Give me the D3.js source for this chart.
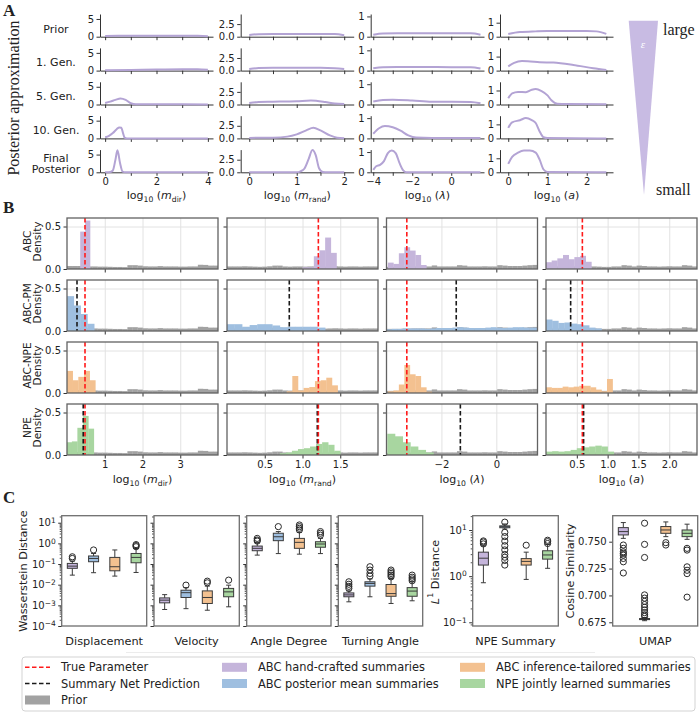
<!DOCTYPE html>
<html>
<head>
<meta charset="utf-8">
<script src="https://cdn.jsdelivr.net/npm/d3@7"></script>
<style>
  body { margin: 0; background: #fff; }
  svg text { font-family: 'DejaVu Sans', sans-serif; fill: #222; }
</style>
</head>
<body>
<div id="chart"></div>
<script>
// ---------------- data ----------------

// panel A: posterior approximations per generation, [x, density]
const genLabels = [['Prior'], ['1. Gen.'], ['5. Gen.'], ['10. Gen.'], ['Final', 'Posterior']];

const kdeMdir = [
  [[0,0.22],[0.5,0.25],[1,0.25],[2,0.25],[3,0.25],[3.6,0.24],[4,0.15]],
  [[0,0.12],[1,0.2],[2,0.3],[3,0.4],[3.6,0.38],[4,0.22]],
  [[0,0.4],[0.2,0.8],[0.4,1.3],[0.6,1.7],[0.8,1.3],[1.0,0.35],[1.2,0.06],[2,0.04],[3,0.04],[4,0.03]],
  [[0,0.3],[0.15,0.7],[0.3,1.5],[0.45,2.6],[0.55,3.1],[0.63,3.0],[0.7,1.4],[0.76,0.2],[0.85,0],[4,0]],
  [[0,0],[0.2,0.1],[0.3,0.5],[0.4,3.5],[0.48,6.2],[0.58,2.6],[0.68,0.2],[0.8,0],[4,0]]
];
const kdeMrand = [
  [[0,0.35],[0.2,0.5],[0.5,0.52],[1,0.52],[1.5,0.55],[1.8,0.52],[2,0.3]],
  [[0,0.3],[0.2,0.5],[0.5,0.55],[1,0.55],[1.5,0.55],[1.8,0.48],[2,0.3]],
  [[0,0.3],[0.2,0.5],[0.5,0.55],[1,0.65],[1.3,0.78],[1.6,0.5],[1.8,0.2],[2,0.1]],
  [[0,0.1],[0.5,0.15],[0.8,0.35],[1.0,0.8],[1.2,1.6],[1.35,2.1],[1.5,1.6],[1.7,0.6],[1.85,0.15],[2,0.05]],
  [[0,0],[1.0,0],[1.08,0.2],[1.16,0.7],[1.25,2.6],[1.33,4.4],[1.4,3.4],[1.47,0.8],[1.55,0.05],[1.65,0],[2,0]]
];
const kdeLambda = [
  [[-4,0.1],[-3.5,0.16],[-2,0.17],[0,0.17],[1,0.17],[1.5,0.1]],
  [[-4,0.12],[-3.5,0.17],[-2,0.18],[0,0.17],[1,0.17],[1.5,0.1]],
  [[-4,0.15],[-3.5,0.22],[-3,0.24],[-2,0.2],[-1,0.14],[0,0.14],[1,0.12],[1.5,0.06]],
  [[-4,0.23],[-3.7,0.5],[-3.4,0.61],[-3,0.55],[-2.6,0.38],[-2.2,0.15],[-1.8,0.04],[-1,0.02],[0,0.02],[1.5,0.02]],
  [[-4,0.12],[-3.85,0.3],[-3.65,0.37],[-3.45,0.55],[-3.25,0.95],[-3.05,1.08],[-2.85,0.95],[-2.65,0.45],[-2.45,0.08],[-2.3,0],[1.5,0]]
];
const kdeA = [
  [[0,0.2],[0.3,0.33],[0.7,0.38],[1,0.4],[1.5,0.4],[2,0.4],[2.25,0.38],[2.5,0.2]],
  [[0,0.3],[0.15,0.55],[0.35,0.68],[0.5,0.67],[0.8,0.6],[1.15,0.57],[1.66,0.4],[2.17,0.17],[2.5,0.05]],
  [[0,0.45],[0.1,0.8],[0.25,0.9],[0.45,0.88],[0.6,1.05],[0.7,1.1],[0.85,0.95],[1.0,0.65],[1.1,0.3],[1.25,0.05],[1.5,0.03],[2.5,0.02]],
  [[0,0.75],[0.1,1.15],[0.3,1.3],[0.45,1.45],[0.6,1.3],[0.7,1.1],[0.8,0.5],[0.9,0.08],[1.0,0.02],[2.5,0]],
  [[0,0.6],[0.1,1.1],[0.25,1.4],[0.4,1.55],[0.55,1.55],[0.7,1.4],[0.8,0.9],[0.9,0.2],[1.0,0.02],[2.5,0]]
];

// panel B: prior histograms (30 bins over the axis range)
const priorMdir = [0.035,0.035,0.035,0.035,0.03,0.03,0.028,0.028,0.026,0.024,0.024,0.022,0.045,0.045,0.04,0.032,0.03,0.03,0.034,0.03,0.03,0.03,0.028,0.028,0.03,0.03,0.05,0.048,0.04,0.04];
const priorMrand = [0.03,0.03,0.03,0.032,0.03,0.028,0.026,0.028,0.032,0.04,0.04,0.03,0.028,0.03,0.03,0.028,0.03,0.03,0.026,0.028,0.03,0.032,0.03,0.028,0.03,0.03,0.028,0.03,0.03,0.03];
const priorLambda = [0.025,0.025,0.025,0.028,0.028,0.03,0.03,0.03,0.03,0.042,0.03,0.03,0.03,0.03,0.045,0.04,0.03,0.03,0.03,0.032,0.03,0.03,0.045,0.04,0.035,0.035,0.035,0.04,0.045,0.048];
const priorA = [0.03,0.03,0.03,0.03,0.03,0.03,0.03,0.03,0.03,0.03,0.028,0.025,0.025,0.03,0.03,0.045,0.04,0.03,0.04,0.035,0.03,0.03,0.028,0.03,0.032,0.03,0.03,0.045,0.04,0.03];

// posterior histograms per method, one per parameter: first bin edge, bin width, heights
const histABC = [
  {x0:0.35, w:0.13, h:[0.44,0.57]},
  {x0:1.0, w:0.075, h:[0.02,0.02,0.15,0.22,0.37,0.19]},
  {x0:-3.95, w:0.2, h:[0.075,0.06,0.185,0.256,0.217,0.165,0.047]},
  {x0:0, w:0.092, h:[0.08,0.1,0.125,0.165,0.115,0.14,0.155,0.085]}
];
const histPM = [
  {x0:0, w:0.18, h:[0.41,0.30,0.20,0.085]},
  {x0:0, w:0.1, h:[0.08,0.08,0.05,0.07,0.08,0.08,0.065,0.045,0.05,0.05,0.05,0.05,0.04]},
  {x0:-4, w:0.2, h:[0.02,0.025,0.025,0.03,0.03,0.03,0.03,0.025,0.03,0.035,0.035,0.035,0.04,0.045,0.04,0.035,0.035,0.035,0.04,0.045,0.04,0.035,0.04,0.045,0.045,0.04,0.04,0.04]},
  {x0:0, w:0.1, h:[0.135,0.12,0.095,0.1,0.087,0.08,0.067,0.04,0.03]}
];
const histABCNPE = [
  {x0:0, w:0.15, h:[0.26,0.15,0.19,0.26,0.15]},
  {x0:0.79, w:0.075, h:[0.02,0.2,0.03,0.06,0.07,0.14,0.15,0.18,0.09]},
  {x0:-3.95, w:0.2, h:[0.02,0.03,0.1,0.33,0.22,0.2,0.067,0.015]},
  {x0:0, w:0.09, h:[0.067,0.06,0.06,0.075,0.067,0.075,0.085,0.085,0.067,0.04,0.02,0.165]}
];
const histNPE = [
  {x0:-0.015, w:0.145, h:[0.15,0.16,0.32,0.46,0.31]},
  {x0:0.7, w:0.08, h:[0.02,0.03,0.05,0.07,0.08,0.1,0.13,0.15,0.12,0.05]},
  {x0:-3.97, w:0.28, h:[0.25,0.22,0.15,0.1,0.06,0.03]},
  {x0:0, w:0.1, h:[0.04,0.045,0.04,0.045,0.06,0.08,0.09,0.1,0.11,0.1,0.04]}
];

const trueParam = [0.477, 1.21, -3.26, 0.59];
const netPredPM = [0.265, 0.825, -1.46, 0.40];
const netPredNPE = [0.43, 1.196, -1.31, 0.61];

const methodNames = ['ABC hand-crafted summaries', 'ABC posterior mean summaries',
                     'ABC inference-tailored summaries', 'NPE jointly learned summaries'];
const methodRows = [['ABC', 'Density'], ['ABC-PM', 'Density'], ['ABC-NPE', 'Density'], ['NPE', 'Density']];

// panel C: box statistics [lo whisker, q1, median, q3, hi whisker] and outliers,
// order: hand-crafted, posterior mean, inference-tailored, NPE
const wassMetrics = ['Displacement', 'Velocity', 'Angle Degree', 'Turning Angle'];
const wassDisplacement = [
  {b:[0.029,0.062,0.079,0.107,0.138], out:[0.186,0.224]},
  {b:[0.038,0.129,0.186,0.245,0.324], out:[0.479]},
  {b:[0.026,0.047,0.074,0.209,0.479], out:[]},
  {b:[0.039,0.115,0.209,0.324,0.575], out:[0.69,0.78,0.87]}
];
const wassVelocity = [
  {b:[0.00063,0.00132,0.00178,0.00229,0.0033], out:[]},
  {b:[0.00069,0.0024,0.0041,0.0054,0.0072], out:[0.0095]},
  {b:[0.00058,0.00123,0.0024,0.005,0.0085], out:[0.0123,0.0148]},
  {b:[0.00085,0.0026,0.0045,0.0066,0.0095], out:[0.0166]}
];
const wassAngle = [
  {b:[0.27,0.44,0.575,0.74,1.07], out:[1.29,1.45,1.74]},
  {b:[0.32,1.35,2.09,3.09,3.72], out:[6.46]},
  {b:[0.30,0.575,1.12,1.74,3.39], out:[4.47,5.37,6.46,7.76]},
  {b:[0.32,0.65,0.93,1.2,1.74], out:[2.51,3.09,3.72]}
];
const wassTurning = [
  {b:[0.00148,0.0026,0.0032,0.004,0.005], out:[0.0066,0.0083,0.0105,0.0138]},
  {b:[0.0026,0.0085,0.0115,0.0138,0.019], out:[0.026,0.035,0.051,0.074]},
  {b:[0.00123,0.00275,0.0037,0.0102,0.02], out:[0.024,0.029,0.035,0.042,0.051]},
  {b:[0.00166,0.00275,0.0049,0.0072,0.0138], out:[0.0155,0.019,0.023,0.029]}
];
const npeL1 = [
  {b:[0.72,1.74,2.45,3.31,4.57], out:[5.0,5.5,5.8]},
  {b:[10.5,11.2,11.8,12.3,13.5], out:[14.8,8.9,7.2,5.75,4.57,3.7,2.95,2.57,2.19,1.74]},
  {b:[0.85,1.74,2.09,2.4,3.31], out:[4.68]},
  {b:[1.48,2.34,2.88,3.55,4.9], out:[5.1,5.6,6.0]}
];
const umapCos = [
  {b:[0.7531,0.7563,0.7594,0.7631,0.7678], out:[0.7469,0.7438,0.7406,0.7391,0.7375,0.7344,0.7313,0.7209]},
  {b:[0.6765,0.6775,0.678,0.6785,0.6795], out:[0.7672,0.7475,0.7353,0.7005,0.6975,0.6945,0.6915,0.689,0.6865,0.684,0.682,0.6805]},
  {b:[0.7547,0.7578,0.7609,0.7641,0.7684], out:[0.7491,0.7469]},
  {b:[0.7522,0.7547,0.7578,0.7609,0.7663], out:[0.7438,0.7422,0.7266,0.7234,0.7203,0.6984]}
];

// ---------------- setup ----------------
const SERIF = "'Liberation Serif', 'DejaVu Serif', serif";
const colors = ['#c5b5db', '#9fbfe0', '#f3c190', '#a8d6a0'];
const priorColor = '#a2a2a2';
const curveColor = '#b3a3d4';

const svg = d3.select('#chart').append('svg')
    .attr('width', 700)
    .attr('height', 718);

// math-ish labels built from tspans: [text, style]
function richText(sel, parts, size) {
    let shift = 0;
    parts.forEach(([t, style]) => {
        const target = style === 'sub' ? size * 0.28 : style === 'sup' ? -size * 0.42 : 0;
        const ts = sel.append('tspan').text(t).attr('dy', target - shift);
        shift = target;
        if (style === 'sub' || style === 'sup') ts.attr('font-size', size * 0.7);
        if (style === 'it') ts.attr('font-style', 'italic');
    });
}
const paramLabels = [
    [['log'],['10','sub'],[' ('],['m','it'],['dir','sub'],[')']],
    [['log'],['10','sub'],[' ('],['m','it'],['rand','sub'],[')']],
    [['log'],['10','sub'],[' ('],['λ','it'],[')']],
    [['log'],['10','sub'],[' ('],['a','it'],[')']]
];

function styleAxis(g, size, color) {
    g.attr('font-family', null).attr('font-size', null);
    g.selectAll('.domain').attr('stroke', color || '#333');
    g.selectAll('.tick line').attr('stroke', color || '#333');
    g.selectAll('.tick text').attr('font-size', size).attr('fill', '#222');
}

// panel letters
[['A', 16], ['B', 213], ['C', 503]].forEach(([t, y]) => {
    svg.append('text').attr('x', 3).attr('y', y)
        .style('font-family', SERIF).attr('font-size', 17).attr('font-weight', 'bold').text(t);
});

/* ---------------- PANEL A ---------------- */
const aCols = [
    {x0:100, x1:213, dom:[-0.2,4.2], ymax:6.4, yticks:[0,5], yfmt:'d', xticks:[0,1,2,3,4], xlab:[0,2,4], kde:kdeMdir},
    {x0:240.7, x1:353.7, dom:[-0.18,2.2], ymax:4.5, yticks:[0,2.5], yfmt:'.1f', xticks:[0,0.5,1,1.5,2], xlab:[0,1,2], kde:kdeMrand},
    {x0:370.7, x1:484, dom:[-4.13,1.68], ymax:1.12, yticks:[0,1], yfmt:'d', xticks:[-4,-3,-2,-1,0,1], xlab:[-4,-2,0], kde:kdeLambda},
    {x0:500, x1:613, dom:[-0.21,2.67], ymax:1.62, yticks:[0,1], yfmt:'d', xticks:[0,0.5,1,1.5,2,2.5], xlab:[0,1,2], kde:kdeA}
];
const aRowPitch = 33.9;

const panelA = svg.append('g').classed('panel-a', true);

aCols.forEach((c, ci) => {
    const x = d3.scaleLinear().domain(c.dom).range([c.x0, c.x1]);
    c.kde.forEach((curve, r) => {
        const yTop = 14 + r * aRowPitch, yBot = 36.7 + r * aRowPitch;
        const y = d3.scaleLinear().domain([0, c.ymax]).range([yBot, yTop]);

        panelA.append('g')
            .attr('transform', `translate(0,${yBot})`)
            .call(d3.axisBottom(x).tickValues(c.xticks).tickSize(3.5).tickSizeOuter(0).tickPadding(2.5)
                .tickFormat(d => (r === 4 && c.xlab.includes(d)) ? d3.format('d')(d) : ''))
            .call(g => styleAxis(g, 10));

        panelA.append('g')
            .attr('transform', `translate(${c.x0},0)`)
            .call(d3.axisLeft(y).tickValues(c.yticks).tickSize(3.5).tickSizeOuter(0).tickPadding(2.5)
                .tickFormat(d3.format(c.yfmt)))
            .call(g => styleAxis(g, 10));

        panelA.append('path')
            .datum(curve)
            .attr('d', d3.line().x(d => x(d[0])).y(d => y(d[1])).curve(d3.curveMonotoneX))
            .attr('fill', 'none')
            .attr('stroke', curveColor)
            .attr('stroke-width', 2);
    });
    const lab = panelA.append('text')
        .attr('x', (c.x0 + c.x1) / 2).attr('y', 198.5)
        .attr('text-anchor', 'middle').attr('font-size', 11);
    richText(lab, paramLabels[ci], 11);
});

// generation labels
genLabels.forEach((lines, r) => {
    const yc = 26 + r * aRowPitch;
    lines.forEach((t, li) => {
        panelA.append('text')
            .attr('x', 56)
            .attr('y', lines.length === 1 ? yc + 3 : yc - 3.6 + li * 11.6)
            .attr('text-anchor', 'middle').attr('dominant-baseline', 'central')
            .attr('font-size', 11).text(t);
    });
});

panelA.append('text')
    .attr('transform', 'translate(13,98) rotate(-90)')
    .attr('text-anchor', 'middle').attr('dominant-baseline', 'central')
    .style('font-family', SERIF).attr('font-size', 16)
    .text('Posterior approximation');

// epsilon wedge
panelA.append('path')
    .attr('d', d3.line()([[628.7, 20.7], [658, 20.7], [644, 195]]) + 'Z')
    .attr('fill', '#c8bbe3');
panelA.append('text').attr('x', 643).attr('y', 48)
    .attr('text-anchor', 'middle').style('font-family', SERIF).style('font-style', 'italic')
    .style('fill', '#fff').attr('font-size', 11).text('ε');
panelA.append('text').attr('x', 663).attr('y', 35)
    .style('font-family', SERIF).attr('font-size', 16).text('large');
panelA.append('text').attr('x', 656).attr('y', 195)
    .style('font-family', SERIF).attr('font-size', 16).text('small');

/* ---------------- PANEL B ---------------- */
const bCols = [
    {x0:67, x1:218, dom:[0,4], ticks:[1,2,3], fmt:'d', prior:priorMdir},
    {x0:227, x1:378, dom:[0,2], ticks:[0.5,1,1.5], fmt:'.1f', prior:priorMrand},
    {x0:386.5, x1:537.5, dom:[-4,1.5], ticks:[-2,0], fmt:'d', prior:priorLambda},
    {x0:546, x1:697, dom:[0,2.45], ticks:[0.5,1,1.5,2], fmt:'.1f', prior:priorA}
];
const bRowTop = [218, 280, 342, 404];
const bRowH = 51;
const bHists = [histABC, histPM, histABCNPE, histNPE];
const bNet = [null, netPredPM, null, netPredNPE];

const panelB = svg.append('g').classed('panel-b', true);
const defs = svg.append('defs');

bRowTop.forEach((top, r) => {
    const bot = top + bRowH;
    const y = d3.scaleLinear().domain([0, 0.6]).range([bot, top]);

    bCols.forEach((c, ci) => {
        const x = d3.scaleLinear().domain(c.dom).range([c.x0, c.x1]);
        const cell = panelB.append('g').classed('cell', true);
        const clipId = `clip-b-${r}-${ci}`;
        defs.append('clipPath').attr('id', clipId)
            .append('rect').attr('x', c.x0).attr('y', top).attr('width', c.x1 - c.x0).attr('height', bRowH);

        // grid
        cell.append('g').attr('transform', `translate(0,${bot})`)
            .call(d3.axisBottom(x).tickValues(c.ticks).tickSize(-bRowH).tickFormat(''))
            .call(g => { g.select('.domain').remove(); g.selectAll('line').attr('stroke', '#e2e2e2'); });
        cell.append('g').attr('transform', `translate(${c.x0},0)`)
            .call(d3.axisLeft(y).tickValues([0.5]).tickSize(-(c.x1 - c.x0)).tickFormat(''))
            .call(g => { g.select('.domain').remove(); g.selectAll('line').attr('stroke', '#e2e2e2'); });

        const bars = cell.append('g').attr('clip-path', `url(#${clipId})`);

        // prior
        const pw = (c.dom[1] - c.dom[0]) / c.prior.length;
        bars.selectAll('.prior-bar')
            .data(c.prior)
            .enter()
            .append('rect')
            .classed('prior-bar', true)
            .attr('x', (d, i) => x(c.dom[0] + i * pw))
            .attr('width', (d, i) => x(c.dom[0] + (i + 1) * pw) - x(c.dom[0] + i * pw) + 0.3)
            .attr('y', d => y(d))
            .attr('height', d => y(0) - y(d))
            .attr('fill', priorColor);

        // posterior
        const hst = bHists[r][ci];
        bars.selectAll('.post-bar')
            .data(hst.h)
            .enter()
            .append('rect')
            .classed('post-bar', true)
            .attr('x', (d, i) => x(hst.x0 + i * hst.w))
            .attr('width', (d, i) => x(hst.x0 + (i + 1) * hst.w) - x(hst.x0 + i * hst.w) + 0.3)
            .attr('y', d => y(d))
            .attr('height', d => y(0) - y(d))
            .attr('fill', colors[r]);

        // reference lines
        const vline = (v, col) => cell.append('line')
            .attr('x1', x(v)).attr('x2', x(v)).attr('y1', top).attr('y2', bot)
            .attr('stroke', col).attr('stroke-width', 1.6).attr('stroke-dasharray', '4.5,2.5');
        if (bNet[r]) vline(bNet[r][ci], '#1a1a1a');
        vline(trueParam[ci], '#ff1a1a');

        // ticks
        cell.append('g').attr('transform', `translate(0,${bot})`)
            .call(d3.axisBottom(x).tickValues(c.ticks).tickSize(3.5).tickPadding(2.5)
                .tickFormat(r === 3 ? d3.format(c.fmt) : ''))
            .call(g => { g.select('.domain').remove(); styleAxis(g, 10); });
        cell.append('g').attr('transform', `translate(${c.x0},0)`)
            .call(d3.axisLeft(y).tickValues([0, 0.5]).tickSize(3.5).tickPadding(2.5)
                .tickFormat(ci === 0 ? d3.format('.1f') : ''))
            .call(g => { g.select('.domain').remove(); styleAxis(g, 10); });

        // frame
        cell.append('rect')
            .attr('x', c.x0).attr('y', top).attr('width', c.x1 - c.x0).attr('height', bRowH)
            .attr('fill', 'none').attr('stroke', '#626262').attr('stroke-width', 1.3);
    });

    // row label
    methodRows[r].forEach((t, li) => {
        panelB.append('text')
            .attr('transform', `translate(${26.5 + li * 10.5},${top + bRowH / 2 - 2}) rotate(-90)`)
            .attr('text-anchor', 'middle').attr('dominant-baseline', 'central')
            .attr('font-size', 10.5).text(t);
    });
});

bCols.forEach((c, ci) => {
    const lab = panelB.append('text')
        .attr('x', (c.x0 + c.x1) / 2).attr('y', 482.5)
        .attr('text-anchor', 'middle').attr('font-size', 11);
    richText(lab, paramLabels[ci], 11);
});

/* ---------------- PANEL C ---------------- */
const panelC = svg.append('g').classed('panel-c', true);
const cTop = 515.7, cBot = 626;

function logLabels(g) {
    g.selectAll('.tick text').each(function(d) {
        const t = d3.select(this).text('');
        t.append('tspan').text('10');
        t.append('tspan').text(d3.format('d')(Math.round(Math.log10(d))))
            .attr('font-size', 7.5).attr('dy', '-0.45em');
    });
}

function boxPanel(x0, x1, y, stats, opts) {
    const g = panelC.append('g');
    const xp = d3.scalePoint().domain([0, 1, 2, 3]).range([x0, x1]).padding(0.5);
    const bw = 10;

    // y axis
    if (opts.log) {
        const major = y.ticks().filter(d => Math.abs(Math.log10(d) - Math.round(Math.log10(d))) < 1e-9);
        const minor = y.ticks().filter(d => !major.includes(d));
        g.append('g').attr('transform', `translate(${x0},0)`)
            .call(d3.axisLeft(y).tickValues(minor).tickSize(2).tickFormat(''))
            .call(gg => { gg.select('.domain').remove(); styleAxis(gg, 10, '#555'); });
        g.append('g').attr('transform', `translate(${x0},0)`)
            .call(d3.axisLeft(y).tickValues(major).tickSize(3.5).tickPadding(2.5).tickFormat(''))
            .call(gg => { gg.select('.domain').remove(); styleAxis(gg, 10, '#333');
                          if (opts.labels) logLabels(gg); });
    } else {
        g.append('g').attr('transform', `translate(${x0},0)`)
            .call(d3.axisLeft(y).tickValues(opts.ticks).tickSize(3.5).tickPadding(2.5).tickFormat(d3.format('.3f')))
            .call(gg => { gg.select('.domain').remove(); styleAxis(gg, 10); });
    }

    const boxes = g.selectAll('.box')
        .data(stats)
        .enter()
        .append('g')
        .classed('box', true)
        .attr('transform', (d, i) => `translate(${xp(i)},0)`);

    boxes.append('line').attr('y1', d => y(d.b[0])).attr('y2', d => y(d.b[1]))
        .attr('stroke', '#3a3a3a').attr('stroke-width', 1);
    boxes.append('line').attr('y1', d => y(d.b[3])).attr('y2', d => y(d.b[4]))
        .attr('stroke', '#3a3a3a').attr('stroke-width', 1);
    [0, 4].forEach(k => boxes.append('line')
        .attr('x1', -bw / 4).attr('x2', bw / 4)
        .attr('y1', d => y(d.b[k])).attr('y2', d => y(d.b[k]))
        .attr('stroke', '#3a3a3a').attr('stroke-width', 1));
    boxes.append('rect')
        .attr('x', -bw / 2).attr('width', bw)
        .attr('y', d => y(d.b[3]))
        .attr('height', d => Math.max(0.5, y(d.b[1]) - y(d.b[3])))
        .attr('fill', (d, i) => colors[i])
        .attr('stroke', '#3a3a3a').attr('stroke-width', 1);
    boxes.append('line')
        .attr('x1', -bw / 2).attr('x2', bw / 2)
        .attr('y1', d => y(d.b[2])).attr('y2', d => y(d.b[2]))
        .attr('stroke', '#3a3a3a').attr('stroke-width', 1);
    boxes.selectAll('.flier')
        .data(d => d.out)
        .enter()
        .append('circle')
        .classed('flier', true)
        .attr('cx', 0).attr('cy', d => y(d)).attr('r', 3.1)
        .attr('fill', 'none').attr('stroke', '#2a2a2a').attr('stroke-width', 1);

    g.append('rect')
        .attr('x', x0).attr('y', cTop).attr('width', x1 - x0).attr('height', cBot - cTop)
        .attr('fill', 'none').attr('stroke', '#6e6e6e').attr('stroke-width', 1.3);

    g.append('text')
        .attr('x', (x0 + x1) / 2).attr('y', 645)
        .attr('text-anchor', 'middle').attr('font-size', 11.3).text(opts.title);
}

// Wasserstein panels
const yWass = d3.scaleLog().domain([1e-4, Math.pow(10, 1.339)]).range([cBot, cTop]);
const wassX = [[61.7, 146.7], [154, 239.3], [246.7, 331], [338.3, 422.7]];
[wassDisplacement, wassVelocity, wassAngle, wassTurning].forEach((stats, i) => {
    boxPanel(wassX[i][0], wassX[i][1], yWass, stats, {log: true, labels: i === 0, title: wassMetrics[i]});
});
panelC.append('text')
    .attr('transform', 'translate(23,571) rotate(-90)')
    .attr('text-anchor', 'middle').attr('dominant-baseline', 'central')
    .attr('font-size', 11.3).text('Wasserstein Distance');

// NPE summary
const yL1 = d3.scaleLog().domain([Math.pow(10, -1.08), Math.pow(10, 1.31)]).range([cBot, cTop]);
boxPanel(472.7, 558.3, yL1, npeL1, {log: true, labels: true, title: 'NPE Summary'});
const l1Lab = panelC.append('text')
    .attr('transform', 'translate(435,572) rotate(-90)')
    .attr('text-anchor', 'middle').attr('dominant-baseline', 'central')
    .attr('font-size', 11.3);
richText(l1Lab, [['L', 'it'], ['1', 'sup'], [' Distance']], 11.3);

// UMAP
const yCos = d3.scaleLinear().domain([0.67156, 0.77419]).range([cBot, cTop]);
boxPanel(612.7, 697.7, yCos, umapCos, {log: false, ticks: [0.675, 0.7, 0.725, 0.75], title: 'UMAP'});
panelC.append('text')
    .attr('transform', 'translate(570,571) rotate(-90)')
    .attr('text-anchor', 'middle').attr('dominant-baseline', 'central')
    .attr('font-size', 11.3).text('Cosine Similarity');

/* ---------------- LEGEND ---------------- */
svg.append('line').attr('x1', 126).attr('x2', 595).attr('y1', 652.5).attr('y2', 652.5)
    .attr('stroke', '#ececec').attr('stroke-width', 1);

const legend = svg.append('g').classed('legend', true);
legend.append('rect')
    .attr('x', 22).attr('y', 657).attr('width', 673).attr('height', 54).attr('rx', 3)
    .attr('fill', '#fff').attr('stroke', '#d3d3d3').attr('stroke-width', 1);

const legendItems = [
    {kind:'line', color:'#ff1a1a', label:'True Parameter', col:0, row:0},
    {kind:'line', color:'#1a1a1a', label:'Summary Net Prediction', col:0, row:1},
    {kind:'patch', color:priorColor, label:'Prior', col:0, row:2},
    {kind:'patch', color:colors[0], label:methodNames[0], col:1, row:0},
    {kind:'patch', color:colors[1], label:methodNames[1], col:1, row:1},
    {kind:'patch', color:colors[2], label:methodNames[2], col:2, row:0},
    {kind:'patch', color:colors[3], label:methodNames[3], col:2, row:1}
];
const legColX = [25, 222, 460];
const legRowY = [667.3, 683.5, 700];

const items = legend.selectAll('.item')
    .data(legendItems)
    .enter()
    .append('g')
    .classed('item', true)
    .attr('transform', d => `translate(${legColX[d.col]},${legRowY[d.row]})`);
items.filter(d => d.kind === 'line').append('line')
    .attr('x1', 0).attr('x2', 25).attr('y1', 0).attr('y2', 0)
    .attr('stroke', d => d.color).attr('stroke-width', 1.6).attr('stroke-dasharray', '4.5,2.5');
items.filter(d => d.kind === 'patch').append('rect')
    .attr('x', 0).attr('y', -4.5).attr('width', 25).attr('height', 9)
    .attr('fill', d => d.color);
items.append('text')
    .attr('x', 36).attr('y', 0).attr('dominant-baseline', 'central')
    .attr('font-size', 11.4).text(d => d.label);
</script>
</body>
</html>
